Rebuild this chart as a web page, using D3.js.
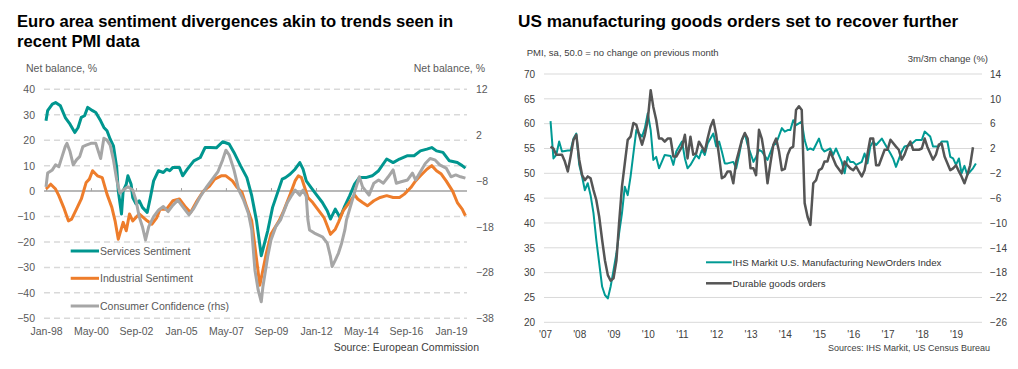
<!DOCTYPE html>
<html><head><meta charset="utf-8">
<script src="https://cdn.jsdelivr.net/npm/d3@7"></script>
<style>
body{margin:0;background:#fff;}
svg text{font-family:"Liberation Sans",Arial,sans-serif;}
</style></head><body>
<svg id="c" width="1018" height="369"></svg>
<script>
// ---------- Left chart data (Euro area sentiment) ----------
const leftTitle = ["Euro area sentiment divergences akin to trends seen in", "recent PMI data"];
const leftTicksLhs = [-50,-40,-30,-20,-10,0,10,20,30,40];
const leftTicksRhs = [-38,-28,-18,-8,2,12];
const leftXLabels = ["Jan-98","May-00","Sep-02","Jan-05","May-07","Sep-09","Jan-12","May-14","Sep-16","Jan-19"];
const leftSeriesNames = ["Services Sentiment","Industrial Sentiment","Consumer Confidence (rhs)"];
const services = [["1998-01",27.6],["1998-02",31.6],["1998-05",34.2],["1998-07",34.8],["1998-10",33.5],["1999-01",28.9],["1999-04",26.3],["1999-07",23],["1999-09",25],["1999-11",29],["2000-01",29.6],["2000-03",32.9],["2000-06",31.6],["2000-08",30.9],["2000-11",27.6],["2001-01",25],["2001-03",23.7],["2001-05",20.4],["2001-07",17.8],["2001-09",9.3],["2001-10",0],["2001-12",-9],["2002-01",0],["2002-03",2.7],["2002-04",6],["2002-06",2.7],["2002-07",-2.5],["2002-09",-5],["2002-11",-3.8],["2003-01",-6.4],["2003-04",-8.4],["2003-06",-2.5],["2003-08",4],["2003-11",8],["2004-02",7.3],["2004-04",8.6],["2004-06",8],["2004-08",9.3],["2004-12",9.3],["2005-02",6],["2005-05",8.6],["2005-09",11.9],["2006-01",13.2],["2006-04",17.1],["2006-07",17.1],["2006-11",17],["2007-03",19.4],["2007-07",18.5],["2007-10",15.2],["2008-02",10],["2008-06",5.3],["2008-09",-1.8],["2008-12",-11.7],["2009-03",-25.4],["2009-07",-15.6],["2009-10",-6.4],["2010-04",4.7],["2010-06",5.3],["2010-09",6.7],["2010-12",8.6],["2011-03",11.2],["2011-05",8.6],["2011-07",4],["2011-10",1.4],["2012-01",-1.2],["2012-05",-4.5],["2012-08",-7.7],["2012-10",-11],["2013-01",-7.1],["2013-04",-10.4],["2013-07",-5.8],["2013-10",-1.8],["2014-01",2.7],["2014-04",5.3],["2014-08",5.3],["2014-12",6],["2015-04",8],["2015-09",12.6],["2016-01",11.2],["2016-05",12.6],["2016-10",13.9],["2017-02",13.9],["2017-06",15.8],["2017-10",16.5],["2018-01",17.1],["2018-04",15.8],["2018-08",15.2],["2018-12",11.9],["2019-05",11.2],["2019-08",10],["2019-10",9]];
const industrial = [["1998-01",0.8],["1998-04",2.7],["1998-07",0.8],["1998-09",-1.8],["1998-12",-6.4],["1999-03",-11.7],["1999-05",-11],["1999-08",-7.1],["1999-11",-3.1],["2000-02",3.4],["2000-04",4.7],["2000-06",8],["2000-09",6],["2000-12",5.3],["2001-03",-1.2],["2001-06",-6.4],["2001-08",-11.7],["2001-10",-18.9],["2002-01",-12.3],["2002-03",-15.6],["2002-05",-9],["2002-07",-11.7],["2002-11",-9],["2003-04",-11.7],["2003-07",-13],["2003-10",-10.4],["2003-12",-7.1],["2004-04",-7.1],["2004-08",-3.8],["2004-12",-3.1],["2005-04",-6.4],["2005-07",-8.4],["2005-11",-3.8],["2006-03",0],["2006-07",2.1],["2006-10",4.7],["2007-02",6],["2007-05",6],["2007-09",4],["2007-12",1.4],["2008-03",-0.5],["2008-06",-6.4],["2008-09",-11.7],["2009-02",-37],["2009-06",-24.8],["2009-09",-16.9],["2010-02",-11.7],["2010-05",-7.7],["2010-09",-1.2],["2010-12",4],["2011-02",6],["2011-04",5.3],["2011-06",1.4],["2011-08",-2.5],["2011-11",-4.5],["2012-02",-7.1],["2012-06",-10.4],["2012-08",-13.6],["2012-10",-17],["2013-01",-15],["2013-03",-12.3],["2013-06",-7.7],["2013-09",-5.1],["2014-01",-1.5],["2014-03",-3.1],["2014-06",-4.5],["2014-09",-5.8],["2015-01",-3.8],["2015-05",-2.5],["2015-09",-1.8],["2016-01",-2.5],["2016-05",-2.5],["2016-08",-1.2],["2016-12",1.4],["2017-03",4],["2017-06",6],["2017-10",8.6],["2018-01",10],["2018-04",8],["2018-07",6.7],["2018-10",4],["2019-02",0],["2019-05",-4.5],["2019-08",-7.1],["2019-10",-9.7]];
const consumer = [["1998-01",-9.3],["1998-02",-6.3],["1998-05",-5.6],["1998-07",-4.5],["1998-09",-4.9],["1998-11",-2.7],["1999-01",-0.5],["1999-02",0.2],["1999-04",-1.6],["1999-06",-4.5],["1999-08",-3.4],["1999-10",-2.7],["1999-12",-0.5],["2000-02",-0.2],["2000-05",0.2],["2000-08",0.2],["2000-11",-3.1],["2001-01",1.3],["2001-03",0.9],["2001-05",-0.2],["2001-07",-3.4],["2001-09",-7.8],["2001-11",-10.7],["2002-01",-10],["2002-04",-9.3],["2002-07",-10],["2002-09",-12.2],["2002-11",-15.8],["2003-01",-18],["2003-03",-20.9],["2003-05",-18],["2003-08",-15.8],["2003-11",-14.4],["2004-02",-13.6],["2004-05",-14.7],["2004-08",-13.3],["2004-11",-12.2],["2005-02",-13.6],["2005-06",-15.4],["2005-09",-14],["2006-01",-11.4],["2006-05",-9.3],["2006-09",-7.4],["2006-12",-6],["2007-03",-3.4],["2007-05",-1.3],["2007-07",-2.3],["2007-10",-5.6],["2008-01",-10],["2008-04",-12.2],["2008-07",-15.1],["2008-09",-18.7],["2008-11",-27.5],["2009-01",-31.8],["2009-03",-34.4],["2009-04",-31.1],["2009-07",-24.5],["2009-09",-20.9],["2009-12",-18],["2010-03",-16.5],["2010-07",-12.9],["2010-10",-11.1],["2010-12",-10],["2011-03",-11.1],["2011-05",-10],["2011-07",-11.4],["2011-08",-16.5],["2011-09",-18.7],["2011-12",-19.4],["2012-05",-20.2],["2012-08",-21.6],["2012-10",-24.5],["2012-11",-26.7],["2013-01",-25.3],["2013-03",-23.8],["2013-05",-21.6],["2013-07",-18.7],["2013-08",-16.5],["2013-11",-12.9],["2014-02",-9.3],["2014-04",-7.1],["2014-06",-9.3],["2014-10",-11.1],["2015-01",-8.5],["2015-04",-7.8],["2015-07",-8.5],["2015-10",-7.1],["2016-01",-5.6],["2016-03",-8.5],["2016-06",-8.2],["2016-10",-7.8],["2017-01",-6.3],["2017-03",-7.8],["2017-06",-6],["2017-09",-4.2],["2017-12",-3.1],["2018-03",-3.4],["2018-06",-4.5],["2018-10",-5.2],["2019-01",-7.1],["2019-04",-6.7],["2019-07",-7.1],["2019-10",-7.4]];

// ---------- Right chart data (US manufacturing) ----------
const rightTitle = "US manufacturing goods orders set to recover further";
const rightTicksLhs = [20,25,30,35,40,45,50,55,60,65,70];
const rightTicksRhs = [-26,-22,-18,-14,-10,-6,-2,2,6,10,14];
const rightXLabels = ["'07","'08","'09","'10","'11","'12","'13","'14","'15","'16","'17","'18","'19"];
const rightSeriesNames = ["IHS Markit U.S. Manufacturing NewOrders Index","Durable goods orders"];
const pmiNewOrders = [["2007-03",60.5],["2007-04",53],["2007-05",53.7],["2007-06",56.4],["2007-07",54.4],["2007-09",54.6],["2007-10",54.6],["2007-11",57],["2007-12",58],["2008-01",51.7],["2008-02",49.3],["2008-03",46.6],["2008-04",48],["2008-05",45.6],["2008-06",42],["2008-07",36.6],["2008-08",31.9],["2008-09",27.2],["2008-10",25.5],["2008-11",24.8],["2008-12",27.2],["2009-01",30.5],["2009-02",33.9],["2009-03",37.9],["2009-04",42],["2009-05",47.3],["2009-06",45.6],["2009-07",49.3],["2009-08",54],["2009-09",58.7],["2009-10",58],["2009-11",57.4],["2009-12",59.1],["2010-01",62.1],["2010-02",58.7],["2010-03",52.7],["2010-04",53.3],["2010-05",51],["2010-07",53.7],["2010-09",53.5],["2010-10",51.7],["2010-11",54.4],["2011-01",56.4],["2011-02",53],["2011-03",51],["2011-04",51.7],["2011-06",53.7],["2011-07",53],["2011-08",54.7],["2011-09",53.7],["2011-10",56],["2011-12",58],["2012-01",55.4],["2012-02",56.4],["2012-03",54.4],["2012-04",52],["2012-05",52],["2012-07",52.3],["2012-08",51],["2012-09",53.7],["2012-10",56.7],["2012-11",58],["2012-12",55.7],["2013-02",52.3],["2013-03",53.3],["2013-04",54.7],["2013-05",54.4],["2013-07",52.7],["2013-09",55.7],["2013-10",56],["2013-12",59.1],["2014-01",58.4],["2014-02",58.7],["2014-03",58.7],["2014-04",60.7],["2014-05",59.7],["2014-07",60.4],["2014-08",56.7],["2014-09",54.7],["2014-10",55],["2014-11",54.7],["2015-01",57],["2015-02",55],["2015-03",54.4],["2015-05",55],["2015-06",53.7],["2015-07",55],["2015-09",52.3],["2015-10",50],["2015-11",53.3],["2015-12",52.3],["2016-01",52.3],["2016-02",51.7],["2016-04",52.3],["2016-05",54],["2016-06",52],["2016-07",55.4],["2016-08",56.4],["2016-09",55.7],["2016-11",57],["2016-12",56],["2017-02",54],["2017-03",53],["2017-04",51.3],["2017-06",54.4],["2017-07",55.4],["2017-09",55.7],["2017-11",56.7],["2018-01",56.7],["2018-02",58.4],["2018-04",57.4],["2018-05",55.4],["2018-07",55.4],["2018-08",56.4],["2018-10",56.4],["2018-11",53.3],["2018-12",53],["2019-01",51.7],["2019-02",53],["2019-03",50],["2019-04",51.5],["2019-05",49.7],["2019-07",51],["2019-08",52]];
const durableGoods = [["2007-03",2.3],["2007-04",2.0],["2007-05",1.0],["2007-07",1.0],["2007-08",-0.1],["2007-09",-1.7],["2007-10",0.7],["2007-11",3.4],["2007-12",4.2],["2008-01",0.2],["2008-02",-2.3],["2008-03",-3.1],["2008-04",-2.5],["2008-05",-2.8],["2008-06",-4.7],["2008-07",-6.3],["2008-08",-9],["2008-09",-12.7],["2008-10",-16],["2008-11",-18.4],["2008-12",-19.3],["2009-01",-18.9],["2009-02",-16],["2009-03",-10],["2009-04",-4.1],["2009-05",-0.4],["2009-06",3.4],["2009-07",3.9],["2009-08",6.1],["2009-09",5.8],["2009-10",4.2],["2009-11",2.6],["2009-12",4.2],["2010-01",6.6],["2010-02",11.4],["2010-03",8.7],["2010-04",6.6],["2010-05",3.6],["2010-06",3.6],["2010-07",3.1],["2010-08",3.6],["2010-09",3.6],["2010-10",0.7],["2010-11",0.7],["2011-01",2.3],["2011-02",4.2],["2011-03",0.4],["2011-04",3.9],["2011-05",1.0],["2011-06",1.2],["2011-07",3.1],["2011-08",2.3],["2011-09",1.5],["2011-10",3.6],["2011-11",5.5],["2011-12",6.6],["2012-01",4.2],["2012-02",0.7],["2012-03",-2.8],["2012-04",-2.5],["2012-05",-1.7],["2012-06",-1.7],["2012-07",-3.6],["2012-08",-0.1],["2012-10",3.4],["2012-11",4.5],["2012-12",3.6],["2013-01",-1.2],["2013-02",-1.2],["2013-03",-2.3],["2013-04",5],["2013-05",3.6],["2013-06",0.7],["2013-07",-3.6],["2013-08",-0.4],["2013-09",2.6],["2013-10",3.6],["2013-11",1.5],["2013-12",-1.5],["2014-01",-1.3],["2014-02",1.0],["2014-03",2.0],["2014-04",2.3],["2014-05",8.2],["2014-06",8.8],["2014-07",8.2],["2014-08",-6.8],["2014-09",-9],["2014-10",-10.3],["2014-11",-3.6],["2014-12",-3.1],["2015-01",-1.5],["2015-02",-1.2],["2015-03",-0.1],["2015-04",-0.1],["2015-05",1.5],["2015-06",0.4],["2015-07",-0.7],["2015-09",-2.0],["2015-10",-0.1],["2015-11",-0.7],["2015-12",-1.2],["2016-01",-1.5],["2016-02",-0.9],["2016-03",-1.7],["2016-04",-2.5],["2016-05",-1.5],["2016-07",3.6],["2016-08",3.6],["2016-09",-0.7],["2016-10",-0.7],["2016-12",1.8],["2017-01",1.8],["2017-02",3.4],["2017-04",2.3],["2017-05",1.8],["2017-06",0.2],["2017-07",1.0],["2017-08",2.3],["2017-09",3.1],["2017-10",1.8],["2017-12",1.8],["2018-01",2.0],["2018-02",3.6],["2018-03",2.3],["2018-05",0.2],["2018-06",1.0],["2018-07",2.6],["2018-08",2.8],["2018-09",0.7],["2018-11",-1.5],["2018-12",-1.2],["2019-01",-0.7],["2019-02",-1.7],["2019-03",-2.5],["2019-04",-3.6],["2019-05",-2.3],["2019-06",-0.7],["2019-07",2.2]];

// ---------- Drawing ----------
const svg = d3.select("#c");
const parseM = d3.timeParse("%Y-%m");
const parseLbl = d3.timeParse("%b-%y");
const FONT = '"Liberation Sans",Arial,sans-serif';
const TEAL = "#00968f", ORANGE = "#ee7d2b", LGRAY = "#a6a6a6", DGRAY = "#555555";

function styleAxis(g, size, color) {
  g.select(".domain").remove();
  g.selectAll("text").attr("font-family", FONT).attr("font-size", size).attr("fill", color);
}

// ===== LEFT CHART =====
const L = svg.append("g");
L.selectAll("text.title").data(leftTitle).join("text")
  .attr("x", 17).attr("y", (d,i) => 27 + i*20)
  .attr("font-size", 16.6).attr("font-weight", "bold").attr("fill", "#000").text(d => d);

const xL = d3.scaleTime().domain([parseM("1998-01"), parseM("2019-01")]).range([46, 451]);
const yL = d3.scaleLinear().domain([-50, 40]).range([318.3, 89.3]);
const yLR = d3.scaleLinear().domain([-38, 12]).range([318.3, 89.3]);

// gridlines
L.append("g").selectAll("line").data(leftTicksLhs.filter(v => v !== 0)).join("line")
  .attr("x1", 44).attr("x2", 467).attr("y1", d => yL(d)).attr("y2", d => yL(d))
  .attr("stroke", "#d9d9d9").attr("stroke-width", 1.5).attr("stroke-dasharray", "6,4");
L.append("line").attr("x1", 44).attr("x2", 467).attr("y1", yL(0)).attr("y2", yL(0))
  .attr("stroke", "#a0a0a0").attr("stroke-width", 1.5);
// tick marks on zero line
L.append("g").attr("transform", `translate(0,${yL(0)})`)
  .call(d3.axisTop(xL).tickValues(leftXLabels.map(parseLbl)).tickSize(3).tickFormat(""))
  .call(g => { g.select(".domain").remove(); g.selectAll("line").attr("stroke", "#a0a0a0"); });

// axes labels
L.append("g").attr("transform", "translate(44,0)")
  .call(d3.axisLeft(yL).tickValues(leftTicksLhs).tickSize(0).tickPadding(9))
  .call(g => styleAxis(g, 10.5, "#595959"));
L.append("g").attr("transform", "translate(476,0)")
  .call(d3.axisRight(yLR).tickValues(leftTicksRhs).tickSize(0).tickPadding(0))
  .call(g => styleAxis(g, 10.5, "#595959"));
L.append("g").attr("transform", "translate(0,327.5)")
  .call(d3.axisBottom(xL).tickValues(leftXLabels.map(parseLbl)).tickFormat(d3.timeFormat("%b-%y")).tickSize(0).tickPadding(0))
  .call(g => styleAxis(g, 10.5, "#595959"));

L.append("text").attr("x", 26).attr("y", 72).attr("font-size", 10.5).attr("fill", "#595959").text("Net balance, %");
L.append("text").attr("x", 485).attr("y", 72).attr("text-anchor", "end").attr("font-size", 10.5).attr("fill", "#595959").text("Net balance, %");

const lineL = d3.line().x(d => xL(parseM(d[0]))).y(d => yL(d[1]));
const lineLR = d3.line().x(d => xL(parseM(d[0]))).y(d => yLR(d[1]));
L.append("path").datum(services).attr("d", lineL).attr("fill", "none").attr("stroke", TEAL).attr("stroke-width", 3).attr("stroke-linejoin", "round");
L.append("path").datum(industrial).attr("d", lineL).attr("fill", "none").attr("stroke", ORANGE).attr("stroke-width", 3).attr("stroke-linejoin", "round");
L.append("path").datum(consumer).attr("d", lineLR).attr("fill", "none").attr("stroke", LGRAY).attr("stroke-width", 3).attr("stroke-linejoin", "round");

// legend
const legL = L.append("g");
const legColors = [TEAL, ORANGE, LGRAY];
const legY = [251, 278.3, 306];
leftSeriesNames.forEach((n, i) => {
  legL.append("line").attr("x1", 70.7).attr("x2", 99).attr("y1", legY[i]).attr("y2", legY[i])
    .attr("stroke", legColors[i]).attr("stroke-width", 3);
  legL.append("text").attr("x", 100).attr("y", legY[i] + 4).attr("font-size", 10.5).attr("fill", "#595959").text(n);
});
L.append("text").attr("x", 479).attr("y", 350.5).attr("text-anchor", "end").attr("font-size", 10.5).attr("fill", "#404040").text("Source: European Commission");

// ===== RIGHT CHART =====
const R = svg.append("g");
R.append("text").attr("x", 518).attr("y", 27).attr("font-size", 17.2).attr("font-weight", "bold").attr("fill", "#000").text(rightTitle);

const xR = d3.scaleTime().domain([parseM("2007-01"), parseM("2019-01")]).range([545, 956]);
const yR = d3.scaleLinear().domain([20, 70]).range([322.3, 74]);
const yRR = d3.scaleLinear().domain([-26, 14]).range([322.3, 74]);

R.append("g").selectAll("line").data(rightTicksLhs).join("line")
  .attr("x1", 544).attr("x2", 982).attr("y1", d => yR(d)).attr("y2", d => yR(d))
  .attr("stroke", "#d9d9d9").attr("stroke-width", 1);

R.append("g").attr("transform", "translate(544,0)")
  .call(d3.axisLeft(yR).tickValues(rightTicksLhs).tickSize(0).tickPadding(9))
  .call(g => styleAxis(g, 10, "#404040"));
R.append("g").attr("transform", "translate(990,0)")
  .call(d3.axisRight(yRR).tickValues(rightTicksRhs).tickSize(0).tickPadding(0))
  .call(g => styleAxis(g, 10, "#404040"));
R.append("g").attr("transform", "translate(0,330.5)")
  .call(d3.axisBottom(xR).tickValues(rightXLabels.map((d, i) => parseM(String(2007 + i) + "-01"))).tickFormat((d, i) => rightXLabels[i]).tickSize(0).tickPadding(0))
  .call(g => styleAxis(g, 10, "#404040"));

R.append("text").attr("x", 526.7).attr("y", 56).attr("font-size", 9.5).attr("fill", "#404040").text("PMI,  sa, 50.0 = no change on previous month");
R.append("text").attr("x", 988).attr("y", 62).attr("text-anchor", "end").attr("font-size", 9.5).attr("fill", "#404040").text("3m/3m  change (%)");

const lineR = d3.line().x(d => xR(parseM(d[0]))).y(d => yR(d[1]));
const lineRR = d3.line().x(d => xR(parseM(d[0]))).y(d => yRR(d[1]));
R.append("path").datum(pmiNewOrders).attr("d", lineR).attr("fill", "none").attr("stroke", "#009a94").attr("stroke-width", 2).attr("stroke-linejoin", "round");
R.append("path").datum(durableGoods).attr("d", lineRR).attr("fill", "none").attr("stroke", DGRAY).attr("stroke-width", 2.5).attr("stroke-linejoin", "round");

const legRColors = ["#009a94", DGRAY];
const legRY = [262.3, 283.3];
rightSeriesNames.forEach((n, i) => {
  R.append("line").attr("x1", 706).attr("x2", 731.7).attr("y1", legRY[i]).attr("y2", legRY[i])
    .attr("stroke", legRColors[i]).attr("stroke-width", i === 0 ? 2 : 2.5);
  R.append("text").attr("x", 732.5).attr("y", legRY[i] + 3.5).attr("font-size", 9.7).attr("fill", "#333").text(n);
});
R.append("text").attr("x", 990).attr("y", 350.5).attr("text-anchor", "end").attr("font-size", 9).attr("fill", "#404040").text("Sources: IHS Markit, US Census Bureau");
</script>
</body></html>
